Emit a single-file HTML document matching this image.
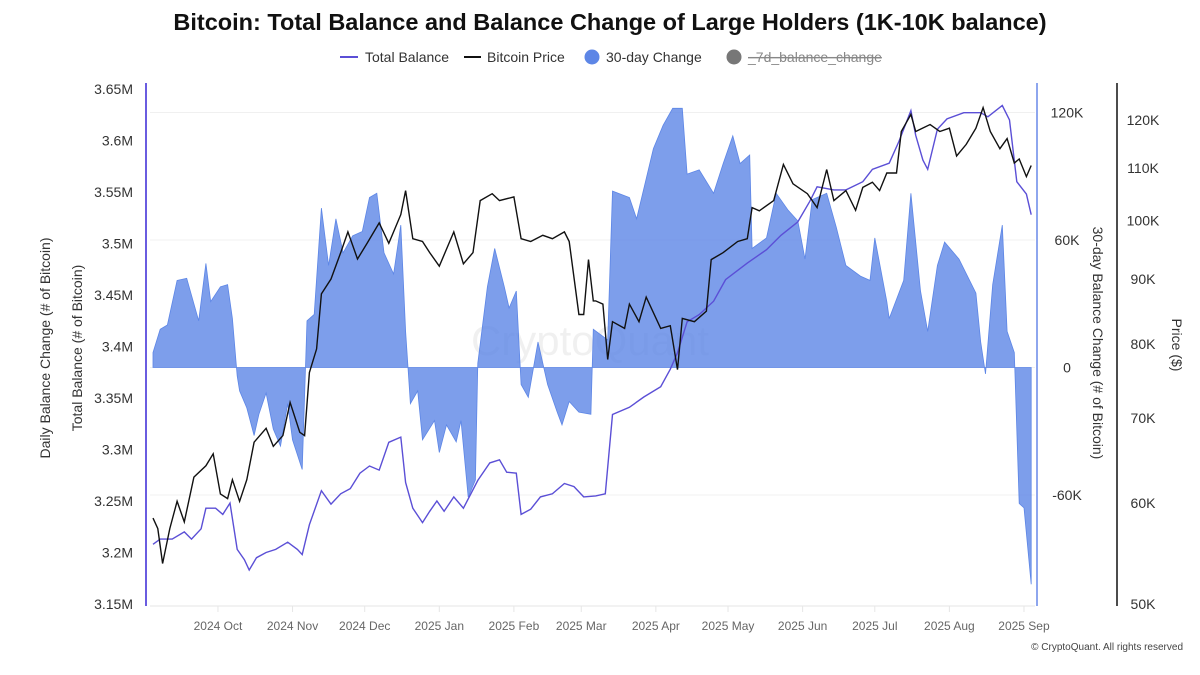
<!DOCTYPE html>
<html><head><meta charset="utf-8"><style>
html,body{margin:0;padding:0;background:#fff;}
body{width:1200px;height:670px;overflow:hidden;font-family:"Liberation Sans",sans-serif;}
</style></head><body>
<svg id="chart" width="1200" height="670" viewBox="0 0 1200 670" xmlns="http://www.w3.org/2000/svg" font-family="Liberation Sans, sans-serif">
<text x="610" y="30" text-anchor="middle" font-size="23.5" font-weight="bold" fill="#111">Bitcoin: Total Balance and Balance Change of Large Holders (1K-10K balance)</text>
<g font-size="14" fill="#333">
<g><line x1="340" y1="57" x2="358" y2="57" stroke="#5b4fd6" stroke-width="2"/><text x="365" y="62">Total Balance</text></g>
<g><line x1="464" y1="57" x2="481" y2="57" stroke="#111" stroke-width="2"/><text x="487" y="62">Bitcoin Price</text></g>
<g><circle cx="592" cy="57" r="7.5" fill="#5d86e6"/><text x="606" y="62">30-day Change</text></g>
<g><circle cx="734" cy="57" r="7.5" fill="#777"/><text x="748" y="62" fill="#888" text-decoration="line-through">_7d_balance_change</text></g>
</g>
<text x="590" y="355" text-anchor="middle" font-size="42" fill="#000" fill-opacity="0.06">CryptoQuant</text>
<g id="grid"></g>
<g id="area"></g>
<g id="lines"></g>
<g id="axes"></g>
<text x="1183" y="650" text-anchor="end" font-size="10" fill="#444">© CryptoQuant. All rights reserved</text>
</svg>
<script>
// ---- data ----
var monthLabels = ["2024 Oct","2024 Nov","2024 Dec","2025 Jan","2025 Feb","2025 Mar","2025 Apr","2025 May","2025 Jun","2025 Jul","2025 Aug","2025 Sep"];
var monthDays = [27,58,88,119,150,178,209,239,270,300,331,362];
var leftTicks = [3.15,3.2,3.25,3.3,3.35,3.4,3.45,3.5,3.55,3.6,3.65];
var changeTicks = [-60000,0,60000,120000];
var priceTicks = [50000,60000,70000,80000,90000,100000,110000,120000];

var changeDays = [0,3,6,10,14,17,19,22,24,28,31,33,35,36,39,42,44,47,50,53,56,58,62,64,67,70,73,76,79,83,87,90,93,96,100,103,105,107,110,112,117,119,122,126,128,131,134,135,139,142,146,148,151,153,156,160,164,168,170,173,177,182,183,189,191,198,201,208,212,216,220,222,227,233,237,241,244,248,249,255,259,264,268,271,274,280,284,288,294,298,300,305,306,312,315,319,322,326,329,335,342,344,346,349,353,355,358,360,362,365];
var changeVals = [7,18,20,41,42,30,22,49,31,38,39,23,-4,-11,-19,-32,-22,-12,-29,-37,-17,-34,-48,22,25,75,48,70,54,62,64,80,82,54,44,67,17,-17,-11,-34,-25,-40,-27,-35,-25,-61,-53,2,38,56,38,28,36,-8,-14,12,-8,-21,-27,-16,-21,-22,18,13,83,80,70,103,114,122,122,91,93,82,96,109,96,100,56,61,82,74,69,51,79,82,66,48,43,41,61,31,23,41,82,36,17,48,59,51,35,12,-3,39,67,17,7,-64,-66,-102];

var balDays = [0,3,8,13,16,20,22,26,29,32,35,38,40,43,47,51,56,60,62,65,70,74,78,82,86,90,94,98,103,105,108,112,115,118,121,125,129,135,140,144,147,151,153,157,161,166,171,175,179,184,188,191,198,204,211,215,218,222,227,233,238,247,255,261,268,273,276,283,288,295,299,306,310,315,317,320,322,326,330,337,344,347,353,356,359,363,365];
var balVals = [3.208,3.213,3.213,3.220,3.213,3.223,3.243,3.243,3.237,3.248,3.203,3.193,3.183,3.195,3.200,3.203,3.210,3.203,3.198,3.227,3.260,3.247,3.257,3.262,3.277,3.284,3.280,3.307,3.312,3.268,3.243,3.229,3.240,3.250,3.240,3.254,3.243,3.270,3.287,3.290,3.278,3.277,3.237,3.242,3.254,3.257,3.267,3.264,3.254,3.255,3.257,3.334,3.341,3.351,3.361,3.378,3.394,3.424,3.431,3.444,3.465,3.481,3.494,3.508,3.521,3.541,3.555,3.552,3.552,3.560,3.572,3.578,3.599,3.629,3.605,3.581,3.572,3.611,3.621,3.627,3.627,3.623,3.634,3.620,3.560,3.548,3.528];

var priceDays = [0,2,4,7,10,13,17,22,25,28,31,33,36,39,42,47,50,54,57,61,63,65,68,70,74,78,81,85,89,94,98,103,105,108,112,115,119,125,129,133,136,141,144,150,153,157,162,166,171,173,177,179,181,183,184,187,189,191,196,198,202,205,211,215,218,220,225,230,232,237,243,247,249,252,258,262,266,272,276,280,283,288,292,295,299,302,305,309,311,315,317,323,327,331,334,338,342,345,348,352,355,358,360,363,365];
var priceVals = [58.4,57.3,53.8,57.3,60.2,58.0,62.9,64.2,65.6,61.0,60.5,62.6,60.2,62.6,67.0,68.7,66.5,67.8,72.0,68.2,67.8,76.0,79.3,87.6,90.0,94.4,98.0,93.3,96.0,99.6,96.0,101.1,105.6,96.8,96.3,94.4,92.1,98.0,92.5,94.4,103.7,105.0,103.7,104.4,96.8,96.3,97.4,96.8,98.0,96.3,84.4,84.4,93.2,86.5,86.5,86.0,77.8,83.3,82.3,86.0,83.3,87.1,82.3,82.7,76.4,83.8,83.3,84.9,93.2,94.4,96.3,96.8,102.4,101.8,103.7,110.7,106.9,105.0,102.4,109.7,103.7,105.6,101.9,106.2,107.2,105.6,109.0,109.0,117.5,121.2,117.5,119.0,117.5,118.2,112.4,114.8,118.2,122.7,117.5,113.9,116.0,111.0,111.8,108.3,110.5];

// ---- scales ----
function xS(d){return 153 + d*2.406;}
function yLeft(v){return 89 + (3.65 - v)/0.05*51.5;}
function yChange(v){return 367.5 - v/60000*127.5;}
function yPrice(p){return 604 - 553*Math.log(p/50000);}
var NS="http://www.w3.org/2000/svg";
function mk(tag,attrs,parent){var e=document.createElementNS(NS,tag);for(var k in attrs)e.setAttribute(k,attrs[k]);parent.appendChild(e);return e;}
var grid=document.getElementById('grid'),area=document.getElementById('area'),lines=document.getElementById('lines'),axes=document.getElementById('axes');

// gridlines
changeTicks.forEach(function(t){
  var g=mk('line',{x1:150,x2:1035,y1:yChange(t),y2:yChange(t),stroke:'#f0f0f0','stroke-width':1},grid);
  
  
});

// area
var d='M'+xS(changeDays[0])+','+yChange(0);
for(var i=0;i<changeDays.length;i++){d+=' L'+xS(changeDays[i]).toFixed(1)+','+yChange(changeVals[i]*1000).toFixed(1);}
d+=' L'+xS(changeDays[changeDays.length-1])+','+yChange(0)+' Z';
var ar=mk('path',{d:d,fill:'#5d86e6','fill-opacity':0.8,stroke:'#5d86e6','stroke-width':0.8},area);



// lines
function linePath(days,vals,fy){var s='';for(var i=0;i<days.length;i++){s+=(i?' L':'M')+xS(days[i]).toFixed(1)+','+fy(vals[i]).toFixed(1);}return s;}
var pl=mk('path',{d:linePath(balDays,balVals,yLeft),fill:'none',stroke:'#5b4fd6','stroke-width':1.4},lines);


var bl=mk('path',{d:linePath(priceDays,priceVals.map(function(v){return v*1000;}),yPrice),fill:'none',stroke:'#111','stroke-width':1.4},lines);



// axes lines
var a1=mk('line',{x1:146,x2:146,y1:83,y2:606,stroke:'#6a5ce0','stroke-width':2},axes);


var a2=mk('line',{x1:1037,x2:1037,y1:83,y2:606,stroke:'#8ea6ee','stroke-width':2},axes);


var a3=mk('line',{x1:1117,x2:1117,y1:83,y2:606,stroke:'#111','stroke-width':1.5},axes);


var a4=mk('line',{x1:150,x2:1035,y1:606,y2:606,stroke:'#e6e6e6','stroke-width':1},axes);



// x ticks
monthDays.forEach(function(md,i){
  var tk=mk('line',{x1:xS(md),x2:xS(md),y1:606,y2:612,stroke:'#e6e6e6'},axes);
  
  
  var t=mk('text',{x:xS(md),y:630,'text-anchor':'middle','font-size':12,fill:'#666'},axes);
  t.textContent=monthLabels[i];
  
  
});
// left ticks
leftTicks.forEach(function(v){
  var t=mk('text',{x:133,y:yLeft(v)+5,'text-anchor':'end','font-size':14,fill:'#333'},axes);
  t.textContent=v.toFixed(2).replace(/0$/,'')+'M';
  
  
});
// change ticks
changeTicks.forEach(function(v){
  var t=mk('text',{x:1067,y:yChange(v)+5,'text-anchor':'middle','font-size':14,fill:'#333'},axes);
  t.textContent=v===0?'0':(v/1000)+'K';
  
  
});
// price ticks
priceTicks.forEach(function(v){
  var t=mk('text',{x:1143,y:yPrice(v)+5,'text-anchor':'middle','font-size':14,fill:'#333'},axes);
  t.textContent=(v/1000)+'K';
  
  
});
// axis titles
function rt(x,y,rot,txt,name){var t=mk('text',{x:x,y:y,'text-anchor':'middle','font-size':14,fill:'#333',transform:'rotate('+rot+' '+x+' '+y+')'},axes);t.textContent=txt;
  
  }
rt(50,348,-90,'Daily Balance Change (# of Bitcoin)','left-axis-title-outer');
rt(82,348,-90,'Total Balance (# of Bitcoin)','left-axis-title');
rt(1093,343,90,'30-day Balance Change (# of Bitcoin)','change-axis-title');
rt(1172,345,90,'Price ($)','price-axis-title');
</script>
</body></html>
